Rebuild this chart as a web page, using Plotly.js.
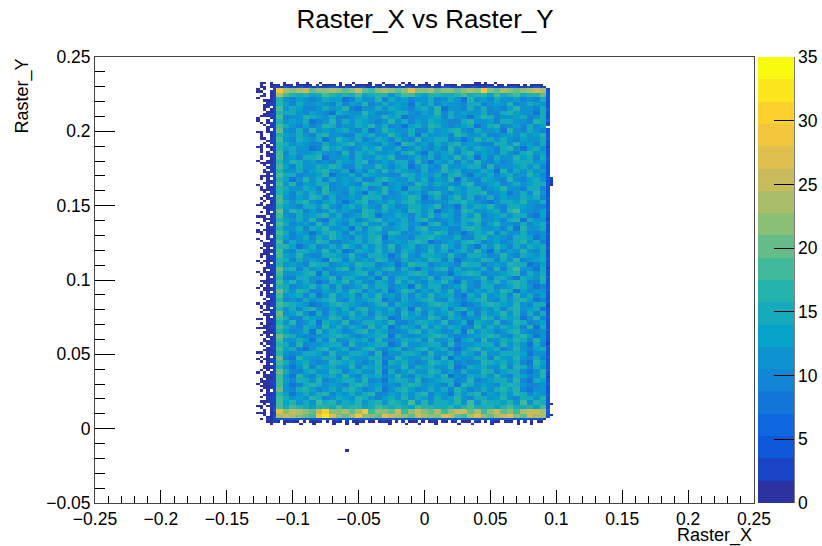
<!DOCTYPE html>
<html><head><meta charset="utf-8">
<script src="https://cdn.plot.ly/plotly-3.0.1.min.js"></script>
<style>html,body{margin:0;padding:0;background:#fff}#c{width:822px;height:546px}</style>
</head><body><div id="c"></div>
<script>
// Counts estimated by eye from the reference; base-36 per cell, '.' = empty bin.
// Fringe rows are read per bin. The interior is an estimate per 2x2-bin block.
const titleText = "Raster_X vs Raster_Y";
const xLabel = "Raster_X";
const yLabel = "Raster_Y";
const colorTicks = [0,5,10,15,20,25,30,35];
const bandColors = ["rgb(44,50,160)","rgb(26,68,198)","rgb(16,88,218)","rgb(16,102,222)","rgb(18,117,216)","rgb(19,133,213)","rgb(13,147,208)","rgb(7,162,202)","rgb(21,171,188)","rgb(36,179,172)","rgb(65,185,155)","rgb(102,188,136)","rgb(139,191,118)","rgb(170,189,105)","rgb(201,187,92)","rgb(223,191,77)","rgb(242,197,60)","rgb(253,208,44)","rgb(251,230,29)","rgb(249,251,14)"];

// interior, bins i=55..136 in pairs, j=185 down to 38 in pairs
const interiorBlocks = [
"tolnqkmlnlkmqkjlnlkmrmlnklmkmnlsmkomkmnqo",
"nigehdfihegfjdfhgceijfdhgefhieghdjfgieghk",
"hc9dbacedd8afbcgaebd9cbeacfb8gcdaecbdacaf",
"gdaebcdb9fadcgacebdb8ecfadbcaefabdbg9cedb",
"ibeda9cfcdga8cbfbedcadecg8bcaebfac9dgbcae",
"gefcadba8edcbgdaacfeb9dcgafbdbce9afgdcb8f",
"jacbgedbfa9cdecbgdf8abcdeafcb8dgeacbdf9ce",
"hcdbe8acg9fbedcabgceadbfdc9aegbcdafebc9ge",
"ifbad9cgeabcfdgbeac8dfbgecabdf8cegabdafcd",
"kb9eagcdbdecaf8bgdcbfa9ecdfgbaecbd8gcaeca",
"hdcfbaegcb9afdecbgdae8fbcdagebcfa9cdbecdg",
"icaedbf8cgdbeacfd9ebagcdfeab8cgdfbecadcbf",
"gebdc9afbdegcdbafc8gebdafcegbdca9febgcdae",
"hdfbc8agdebacfdgbceabfc9dagbecfdbaegc8dfb",
"iaecbdfcb9gaedfbcdaegb8fcdeafgbdcaeb9fgcd",
"jcdafeg8bcdafbcedg9abfceadbgcf8daebcgdfae",
"hbgecdab9fdcegabdcfeagb8dcfaebgc9dabefecd",
"idafbcedgf9aebcgdadf8becagbcdfe9gabcdfbea",
"gcbeadfgcbe8dafcgbedc9fabgdeacbfd8gaebfcd",
"ifeabcdg8bceafdbca9gebdcfaegb8dcfadebcgda",
"hd8cgbeafcdbf9aegdcbfceadbg8fcaedb9gcadfb",
"jbgadcef9bdcagfe8bdcagebfdcaeg9bdfacebdfe",
"hfcbedag9cbfdeacgbd8fecabbgdcfeabdgcb9fea",
"gdaecfbgdcaeb8fdgacebd9fgcadbefgacd8beagc",
"jcadbgf9eacdbgefacbdge8cfadgbeacf9dbcfdea",
"ifbegcadfb8cegadbfcegda9bcfegdba8cfedgcbf",
"hdcafebgcadfbec9gdabefcdgab8ecfdgbaefdca9",
"kbge9dacfbdcagebfcdagebf8cdagebcdfagibc9d",
"icafbdegcfabdge8cbfdaecgbfdaecg9bdfcefa8d",
"gdbecga8fdbeacfgbdceafgb9cdafegbcdaeg8fbc",
"jfacd9gbecafdgbceadfbc8egadbfceadgbc9fade",
"hcbfaedgcbd8faegcbdfaegcbd9afgecbdaf8hcbe",
"ieadb8cfgdaecbfd9geacbfdgeab8cfdgaecbf9ac",
"gd9cfaebgdcafbeg8dcbafegdcbfa9egcdbafed8b",
"jaebdcgfa9bdecfgabdcegf8abdcegfabd9cegbfa",
"hgd8cfabecgdafbecg9dfabecgdafb8ecgdafcfde",
"ibafedcgbf8aedcgbfaed9cgbfadecgb8fadchbae",
"jdcgb9aefdcgbafed8cgbaefdcgbaefd9cgbafdce",
"geafcdb8geafcdbgea9fcdbgeaf8cdbgeafcg9bdf",
"hbdc9gfeabdcgfeabd8cgfeabdc9gfeabdcgfe8ad",
"kfgaebd9cfgaebdcfgaeb8dcfgaebdcf9gaeicb8f",
"icbdfg8eacbdfg9eacbdfgeacb8dfgeacbdfg9ebf",
"ga9efcbdgaefcbd8gaefcbdgaef9cbdgaefc8fdbg",
"jdgbec8afdgbecafd9gbecafdgb8ecafdgbehf9ae",
"hfacdgbe9facdgbefacd8gbefacdgb9efacdgfb8a",
"kebgf9adcebgfadce8bgfadcebg9fadcebgf8dabc",
"icdfae8bgcdfaebgcd9faebgcdfa8ebgcdfagbe9d",
"g9baecdfgbaecdfg8baecdfgbaec9dfgbaecfgd8a",
"jgfdb8acegfdbaceg9fdbacegfdb8acegfdbhc9ef",
"hceafgb9dceafgbdceaf8gbdceafgb9dceafgbde8",
"kbdgc8faebdgcfaebd9gcfaebdgc8faebdgcg9fae",
"ifa9edbcgfaedbcgf8aedbcgfaed9bcgfaedf8bga",
"gcgabe8fdcgabefdcga9befdcgabe8fdcgabhe9cd",
"jeb9fdagcebfdagce8bfdagcebfda9gcebfdfag8e",
"hdace8gbfdacegbfd9acegbfdace8gbfdacegb9ac",
"kgfb9acdegfbacdeg8fbacdegfba9cdegfbaegd8b",
"icbed8fagcbedfagc9bedfagcbe8dfagcbedhf9gc",
"geag9cbdfeagcbdfe8agcbdfeag9cbdfeagcfb8ea",
"jdfa8begcdfabegc9dfabegcdfa8begcdfabgc9df",
"hb9cfedagbcfedag8bcfedagbcf9edagbcfefd8bc",
"ka8gdcbfeagdcbfe9agdcbfeag8dcbfeagdcgb9fa",
"if9debacgfdebacg8fdebacgfde9bacgfdebfa8gd",
"hc8bgafdecbgafde9cbgafdecbg8afdecbgahf9ec",
"ke9adfcbgeadfcbg8eadfcbgead9fcbgeadfea8bg",
"ib8gcaedfbgcaedf9bgcaedfbg8caedfbgcafd9bg",
"jd9febgacdfebgac8dfebgacdfe9bgacdfebga8fd",
"ic8aegfbdcaegfbd9caegfbdcae8gfbdcaegfb9ac",
"kb9fgdacebfgdace8bfgdacebf9gdacebfgdha8cb",
"hd8cebfgadcebfga9dcebfgadc8ebfgadcebgf9dc",
"jfcdbgeacfdbgecadfbgcedafbdgcaefbdgcaefbh",
"idgbfciehbfdgcehbgfdichbefdgcibhefdgbichf",
"jeihfdhgfieghdfigehfdighefhdgifehdgifehdj",
"rmpnlkqumlokosjlmkqjlpmknjlqpknjmpkljnqpo",
"oqnmkjswrlkotlmkrpnlkqomlrpkjnrmkoqrlkqoo"
];

// bins i=49..54, j=188 down to 35
const leftFringe = [
".11.1.",".1..11",".11.12","1.1..3","11..13","..1.13",".11.13","1...13","..1113","...123",
"..1123","..11.3","..1.13","...113","..1123",".11123","1...13","1..1.3",".1.123","..1.23",
"...113","...1.3","11.123",".1..13",".1..13",".11.23","...123","..1.13",".1.1.3","11.113",
".1..13",".1.1.3","...113",".1.123",".1..13","1..113",".11113","..1.23","...123","..1.13",
"..1123","...1.3",".11123",".1.1.3","...113","..1123","1..1.3",".1.113",".11123","..1.23",
"...123","..11.3",".1.123","..1.13",".1..13","11.113","..1123","...123",".1.1.3","...123",
"111.13","..1123","..1.13","1..113",".1.1.3","...123","1.1113","11.113",".1.123","...1.3",
"1..123",".1..13","..1123","..1113",".1.1.3","..1113","..1123",".111.3",".1.123","...123",
"1.1113",".1.1.3","...123","..1123","..1.13","1.1123",".1.113","...1.3","...113",".11123",
"..1113",".1.1.3","1.1113","..1123",".1.1.3",".1.123","...123","..1.13","...113","1.1123",
".1.123",".1.1.3","..1123",".1..13","..1123","...1.3","11.113","...123",".1.113","..1123",
"111123","...113","..1113",".1.1.3","...113","..1.13","..1123",".1.113","..1.23","...123",
"..1113","11.123","...113",".1.1.3","1.1123",".1.123","...1.3","..1123","..1113",".1.1.3",
"1.1.13","..1123","..1113",".1.113",".11123","1.1123",".11113","..1123",".1.1.3","...123",
"..1113",".1.223","...123",".11123","..1.13","11.123",".1..14","..1.14","111.13","..1.13",
"...114",".1.213","...112","....1."
];

// bins i=55..138, three rows above the body (j=188,187,186)
const topFringe = [
"..1...1..1...1.....1...1....1...1.....1.1....1...1..........11.1..1...............",
"1.111.11111.1.1111.1.11.11111.11.111.1.111.1111.11.1111.1111111111.11.1111.1.1111.",
"3344333433434333444334333443334344333434433343343344433343344333443334344333434433."
];

// bins i=55..138, three rows below the body (j=37,36,35)
const bottomFringe = [
"4454454554445445454445545445445454454454445454544544545445445445454454454445454551",
"1.11211.1.2112.1.121.2.1121.11.1211.1.2.112.1.121.21.12.111.21.1.211.121.1.2.1.11",
"..1....1...1.....1...1..1.........1....1...1....1......1...1.....1.......1...1...."
];

// bins i=137,138, j=185 down to 38
const rightFringe = [
"3.","4.","5.","5.","4.","5.","5.","4.","5.","6.","5.","4.","5.","5.","6.","3.","5.","..","4.","4.",
"5.","5.","6.","5.","4.","5.","3.","5.","5.","4.","5.","6.","5.","5.","4.","5.","5.","4.","5.","6.",
"52","52","42","51","5.","4.","5.","5.","4.","6.","5.","5.","4.","5.","6.","5.","4.","5.","3.","5.",
"6.","5.","4.","5.","5.","6.","4.","5.","5.","4.","5.","6.","5.","4.","5.","5.","6.","5.","4.","5.",
"3.","5.","5.","4.","6.","5.","5.","4.","5.","5.","6.","4.","5.","5.","4.","6.","5.","3.","5.","5.",
"4.","5.","6.","5.","4.","5.","5.","4.","6.","5.","5.","4.","5.","5.","3.","6.","5.","4.","5.","5.",
"6.","5.","4.","5.","5.","4.","6.","5.","5.","3.","5.","4.","6.","5.","5.","4.","5.","6.","5.","4.",
"5.","51","5.","4.","6.","5.","51","4."
];

// the lone entry below the body: bin i, bin j, count
const strayBin = [76, 23, 1];

const nBins = 200;
const xMin = -0.25, xMax = 0.25, yMin = -0.05, yMax = 0.25;
const dx = (xMax - xMin) / nBins, dy = (yMax - yMin) / nBins;
const z = Array.from({length: nBins}, () => Array(nBins).fill(null));
function place(rows, iStart, jTop, w, h) {
  rows.forEach((s, r) => {
    [...s].forEach((c, k) => {
      if (c === '.') return;
      const v = parseInt(c, 36);
      for (let a = 0; a < w; a++) for (let b = 0; b < h; b++) {
        const j = jTop - r * h - b, i = iStart + k * w + a;
        if (j >= 0 && j < nBins && i >= 0 && i < nBins) z[j][i] = v;
      }
    });
  });
}
place(interiorBlocks, 55, 185, 2, 2);
place(leftFringe, 49, 188, 1, 1);
place(topFringe, 55, 188, 1, 1);
place(bottomFringe, 55, 37, 1, 1);
place(rightFringe, 137, 185, 1, 1);
z[strayBin[1]][strayBin[0]] = strayBin[2];

const colorscale = [];
bandColors.forEach((c, k) => {
  colorscale.push([k / bandColors.length, c], [(k + 1) / bandColors.length, c]);
});

const W = 822, H = 546, L = 95, R = 754, T = 57, B = 503;
const px = v => (v - L) / (R - L);
const font = {family: "Liberation Sans, Arial, sans-serif", color: "#000", size: 17.5};
const axisBase = {
  showgrid: false, zeroline: false, showline: true, linecolor: "#444", linewidth: 1,
  mirror: true, ticks: "inside", dtick: 0.05, tickwidth: 1, tickcolor: "#000",
  tickfont: font, minor: {dtick: 0.01, ticks: "inside", tickcolor: "#000", tickwidth: 1, showgrid: false}
};
const trace = {
  type: "heatmap", z: z, x0: xMin + dx / 2, dx: dx, y0: yMin + dy / 2, dy: dy,
  zmin: 0, zmax: 35, colorscale: colorscale, hoverongaps: false,
  colorbar: {
    x: px(758), xanchor: "left", xpad: 0, ypad: 0,
    y: 0.5, yanchor: "middle", len: 1, lenmode: "fraction",
    thickness: 36, thicknessmode: "pixels", outlinewidth: 0,
    tickmode: "array", tickvals: colorTicks, ticktext: colorTicks.map(String),
    ticks: "inside", ticklen: 20, tickwidth: 1, tickcolor: "#000", tickfont: font
  }
};
const layout = {
  width: W, height: H, paper_bgcolor: "#fff", plot_bgcolor: "#fff", font: font,
  margin: {l: L, r: W - R, t: T, b: H - B, pad: 0, autoexpand: false},
  showlegend: false,
  title: {text: titleText, font: {family: font.family, size: 26, color: "#000"},
          x: 425 / W, xanchor: "center", y: 1 - 19 / H, yanchor: "middle"},
  xaxis: Object.assign({}, axisBase, {range: [xMin, xMax], ticklen: 13, tick0: -0.25,
    minor: Object.assign({}, axisBase.minor, {ticklen: 7})}),
  yaxis: Object.assign({}, axisBase, {range: [yMin, yMax], ticklen: 20, tick0: -0.05,
    minor: Object.assign({}, axisBase.minor, {ticklen: 10})}),
  annotations: [
    {text: xLabel, xref: "paper", yref: "paper", x: 1, y: -(535 - B) / (B - T), xanchor: "right", yanchor: "middle",
     showarrow: false, font: {family: font.family, size: 18, color: "#000"}},
    {text: yLabel, xref: "paper", yref: "paper", x: px(22), y: 1, xanchor: "center", yanchor: "top",
     textangle: -90, showarrow: false, font: {family: font.family, size: 18, color: "#000"}}
  ],
  shapes: [{type: "line", xref: "paper", yref: "paper", x0: px(794), x1: px(794), y0: 0, y1: 1,
            line: {color: "#000", width: 1}}]
};
Plotly.newPlot("c", [trace], layout, {displayModeBar: false, staticPlot: true});
</script></body></html>
